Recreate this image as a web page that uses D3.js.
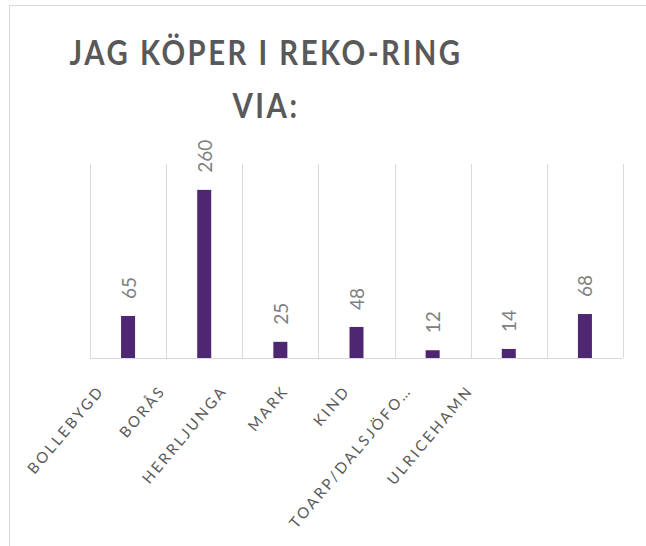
<!DOCTYPE html>
<html>
<head>
<meta charset="utf-8">
<script src="https://cdn.jsdelivr.net/npm/d3@7"></script>
<style>
	body { margin: 0; background: #fff; }
	svg { display: block; }
</style>
</head>
<body>
<div id="chart"></div>
<script>
const categories = ['BOLLEBYGD', 'BORÅS', 'HERRLJUNGA', 'MARK', 'KIND', 'TOARP/DALSJÖFO…', 'ULRICEHAMN']
const values = [65, 260, 25, 48, 12, 14, 68]
const titleLines = ['JAG KÖPER I REKO-RING', 'VIA:']
const titleWidths = [393, 67]

const width = 646
const height = 546
const barColor = '#4e2671'
const gridColor = '#d9d9d9'
const font = 'Lato, "Liberation Sans", sans-serif'

const svg = d3.select('#chart').append('svg').attr('width', width).attr('height', height)

// chart frame (runs off the picture on right / bottom)
svg.append('rect')
	.attr('x', 9.5).attr('y', 5.5)
	.attr('width', 700).attr('height', 600)
	.attr('fill', 'none').attr('stroke', gridColor)

const x = d3.scaleBand().domain(categories).range([90, 623]).paddingInner(0).paddingOuter(0)
const y = d3.scaleLinear().domain([0, 300]).range([358, 164])
const barW = 14

// title - squeezed to look like the condensed original
svg.append('g')
	.selectAll('text')
	.data(titleLines)
	.join('text')
	.attr('x', 266)
	.attr('y', (d, i) => 65 + i * 53)
	.attr('text-anchor', 'middle')
	.attr('font-family', font)
	.attr('font-weight', 700)
	.attr('font-size', 35)
	.attr('letter-spacing', 3)
	.attr('textLength', (d, i) => titleWidths[i])
	.attr('lengthAdjust', 'spacingAndGlyphs')
	.attr('fill', '#595959')
	.text(d => d)

// vertical gridlines at category borders
const edges = categories.map(c => x(c)).concat([x.range()[1]])
svg.append('g')
	.selectAll('line')
	.data(edges)
	.join('line')
	.attr('x1', d => Math.round(d) + 0.5)
	.attr('x2', d => Math.round(d) + 0.5)
	.attr('y1', y.range()[1])
	.attr('y2', y(0))
	.attr('stroke', gridColor)
	.attr('stroke-width', 1)

// baseline
svg.append('line')
	.attr('x1', x.range()[0]).attr('x2', x.range()[1])
	.attr('y1', y(0) + 0.5).attr('y2', y(0) + 0.5)
	.attr('stroke', gridColor)

const data = categories.map((c, i) => ({ cat: c, value: values[i] }))

// bars
svg.append('g')
	.selectAll('rect')
	.data(data)
	.join('rect')
	.attr('x', d => x(d.cat) + x.bandwidth() / 2 - barW / 2)
	.attr('y', d => y(d.value))
	.attr('width', barW)
	.attr('height', d => y(0) - y(d.value))
	.attr('fill', barColor)

// value labels, rotated
svg.append('g')
	.selectAll('text')
	.data(data)
	.join('text')
	.attr('transform', d => `translate(${x(d.cat) + x.bandwidth() / 2},${y(d.value) - 17}) rotate(-90)`)
	.attr('dominant-baseline', 'central')
	.attr('font-family', font)
	.attr('font-size', 19)
	.attr('fill', '#808080')
	.text(d => d.value)

// category labels (placed on their own point scale, as in the picture)
const lx = d3.scalePoint().domain(categories).range([105, 474])
svg.append('g')
	.selectAll('text')
	.data(categories)
	.join('text')
	.attr('transform', d => `translate(${lx(d)},${391}) rotate(-50)`)
	.attr('text-anchor', 'end')
	.attr('font-family', font)
	.attr('font-size', 15)
	.attr('letter-spacing', 2.6)
	.attr('fill', '#595959')
	.text(d => d)
</script>
</body>
</html>
